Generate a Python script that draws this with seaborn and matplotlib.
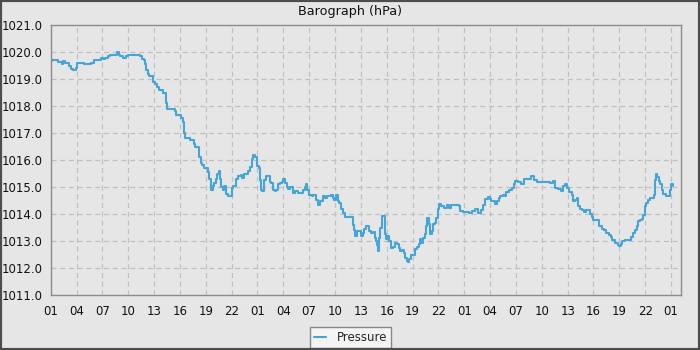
import numpy as np
import pandas as pd
import matplotlib
matplotlib.use("Agg")
import matplotlib.pyplot as plt
from matplotlib.patches import Rectangle
from matplotlib.ticker import MultipleLocator, FixedLocator, FuncFormatter
import seaborn as sns

title = "Barograph (hPa)"
series_name = "Pressure"
tick_labels = ["01", "04", "07", "10", "13", "16", "19", "22"] * 3 + ["01"]

hours = [
    0.0, 0.2, 0.8, 1.27, 1.45, 1.65, 2.1, 2.35, 2.6, 2.9, 3.1, 3.9, 4.7, 5.05, 5.5, 5.8, 6.1,
    6.35, 6.6, 6.85, 7.7, 7.9, 8.1, 8.4, 8.7, 8.95, 10.1, 10.4, 10.6, 10.8, 10.9, 11.1, 11.3,
    11.45, 11.65, 11.85, 12.1, 12.3, 12.6, 13.0, 13.35, 13.5, 14.4, 14.6, 15.1, 15.3, 15.5,
    15.55, 16.2, 16.6, 16.8, 17.2, 17.4, 17.6, 17.8, 18.2, 18.4, 18.6, 18.8, 19.0, 19.2, 19.35,
    19.55, 19.7, 19.8, 19.95, 20.1, 20.3, 20.4, 20.6, 21.0, 21.2, 21.5, 21.75, 22.05, 22.25,
    22.45, 22.85, 23.15, 23.35, 23.5, 23.7, 23.9, 24.0, 24.15, 24.27, 24.4, 24.5, 24.7, 25.0,
    25.4, 25.6, 25.8, 26.0, 26.2, 26.4, 26.6, 26.85, 27.0, 27.2, 27.4, 27.5, 27.8, 28.1, 28.4,
    28.7, 29.3, 29.5, 29.65, 29.8, 30.0, 30.3, 30.5, 30.8, 31.0, 31.2, 31.6, 31.85, 32.1, 32.5,
    32.8, 32.9, 33.1, 33.3, 33.5, 33.7, 33.9, 34.15, 35.05, 35.2, 35.35, 35.6, 36.05, 36.2,
    36.4, 36.6, 36.9, 37.2, 37.4, 37.6, 37.8, 37.9, 38.0, 38.1, 38.25, 38.4, 38.5, 38.75, 38.9,
    39.05, 39.3, 39.5, 39.75, 39.95, 40.2, 40.4, 40.6, 40.8, 40.95, 41.1, 41.3, 41.5, 41.6,
    41.8, 42.3, 42.5, 42.7, 42.85, 43.0, 43.2, 43.4, 43.55, 43.7, 43.9, 44.0, 44.25, 44.4,
    44.6, 44.7, 44.9, 45.1, 45.3, 45.7, 46.0, 46.2, 46.5, 47.4, 47.55, 47.8, 48.5, 48.85,
    49.2, 49.6, 49.9, 50.2, 50.4, 50.7, 51.0, 51.15, 51.55, 51.75, 52.0, 52.2, 52.5, 52.7,
    52.9, 53.15, 53.5, 53.8, 53.9, 54.2, 54.6, 54.9, 55.8, 56.15, 56.45, 57.5, 58.0, 58.3,
    58.5, 58.85, 59.2, 59.5, 59.7, 59.9, 60.2, 60.45, 60.65, 60.9, 61.1, 61.25, 61.4, 61.7,
    61.95, 62.1, 62.6, 62.8, 63.0, 63.6, 64.0, 64.2, 64.4, 64.75, 65.0, 65.2, 65.5, 65.8,
    66.0, 66.2, 66.35, 66.65, 67.3, 67.6, 67.8, 68.0, 68.2, 68.4, 68.6, 68.75, 69.0, 69.15,
    69.3, 69.6, 70.05, 70.15, 70.2, 70.4, 70.55, 70.7, 70.9, 71.1, 71.4, 71.85, 72.0, 72.25,
]
pressure = [
    1019.65, 1019.72, 1019.62, 1019.56, 1019.65, 1019.6, 1019.5, 1019.37, 1019.35, 1019.4,
    1019.6, 1019.56, 1019.6, 1019.7, 1019.72, 1019.78, 1019.74, 1019.78, 1019.84, 1019.9,
    1019.99, 1019.9, 1019.86, 1019.78, 1019.86, 1019.9, 1019.9, 1019.84, 1019.74, 1019.7,
    1019.57, 1019.35, 1019.2, 1019.12, 1019.1, 1018.88, 1018.8, 1018.7, 1018.6, 1018.47,
    1018.1, 1017.9, 1017.8, 1017.67, 1017.55, 1017.4, 1017.0, 1016.83, 1016.74, 1016.6,
    1016.5, 1016.1, 1015.9, 1015.8, 1015.7, 1015.55, 1015.3, 1014.9, 1015.05, 1015.15,
    1015.3, 1015.5, 1015.6, 1015.3, 1015.0, 1014.9, 1015.05, 1014.9, 1014.75, 1014.65,
    1014.95, 1015.05, 1015.3, 1015.4, 1015.45, 1015.35, 1015.5, 1015.6, 1015.75, 1016.05,
    1016.2, 1016.1, 1015.95, 1015.77, 1015.7, 1015.27, 1014.9, 1014.84, 1015.27, 1015.4,
    1015.2, 1015.15, 1014.9, 1014.84, 1014.9, 1015.1, 1015.15, 1015.2, 1015.3, 1015.15,
    1015.0, 1014.93, 1015.0, 1014.78, 1014.84, 1014.78, 1014.9, 1015.0, 1015.1, 1014.9,
    1014.72, 1014.65, 1014.72, 1014.53, 1014.35, 1014.47, 1014.65, 1014.6, 1014.65, 1014.72,
    1014.6, 1014.53, 1014.72, 1014.47, 1014.4, 1014.2, 1014.04, 1013.9, 1013.6, 1013.42,
    1013.2, 1013.36, 1013.2, 1013.3, 1013.43, 1013.56, 1013.37, 1013.28, 1013.33, 1013.12,
    1013.0, 1012.84, 1012.63, 1013.12, 1013.5, 1013.86, 1013.93, 1013.25, 1013.06, 1013.19,
    1013.0, 1012.75, 1012.79, 1012.91, 1012.88, 1012.75, 1012.63, 1012.67, 1012.54, 1012.38,
    1012.26, 1012.22, 1012.35, 1012.5, 1012.69, 1012.79, 1012.88, 1013.06, 1012.94, 1013.12,
    1013.25, 1013.56, 1013.86, 1013.62, 1013.25, 1013.37, 1013.62, 1013.68, 1013.86, 1014.17,
    1014.36, 1014.3, 1014.23, 1014.32, 1014.23, 1014.32, 1014.3, 1014.11, 1014.07, 1014.04,
    1014.12, 1014.19, 1014.04, 1014.16, 1014.35, 1014.56, 1014.63, 1014.56, 1014.47, 1014.38,
    1014.47, 1014.6, 1014.68, 1014.72, 1014.65, 1014.8, 1014.9, 1014.96, 1015.12, 1015.21,
    1015.17, 1015.12, 1015.3, 1015.42, 1015.27, 1015.19, 1015.2, 1015.15, 1015.21, 1014.96,
    1014.93, 1014.84, 1015.02, 1015.11, 1014.96, 1014.8, 1014.72, 1014.47, 1014.53, 1014.6,
    1014.3, 1014.19, 1014.16, 1014.06, 1014.14, 1014.0, 1013.9, 1013.77, 1013.54, 1013.44,
    1013.42, 1013.3, 1013.23, 1013.15, 1013.02, 1012.93, 1012.86, 1012.83, 1012.9, 1012.99,
    1013.05, 1013.15, 1013.3, 1013.4, 1013.54, 1013.73, 1013.77, 1013.81, 1013.98, 1014.28,
    1014.41, 1014.53, 1014.6, 1014.72, 1015.27, 1015.49, 1015.37, 1015.21, 1015.11, 1014.9,
    1014.75, 1014.65, 1014.9, 1015.12, 1015.02,
]

df = pd.DataFrame({"hour": hours, "pressure": pressure})

sns.set_theme(style="white")
plt.rcParams["font.family"] = ["DejaVu Sans"]

bg = "#e6e6e6"
fig = plt.figure(figsize=(7, 3.5), dpi=100, facecolor=bg)
ax = fig.add_axes([50.7 / 700, 55 / 350, (680.5 - 50.7) / 700, (295 - 25) / 350])
ax.set_facecolor(bg)

sns.lineplot(data=df, x="hour", y="pressure", ax=ax, color="#45a5d8", linewidth=1.5,
             drawstyle="steps-post", label=series_name, legend=False)

ax.set_xlim(0, 73.1)
ax.set_ylim(1011, 1021)
ax.xaxis.set_major_locator(FixedLocator(np.arange(0, 73, 3)))
ax.xaxis.set_minor_locator(MultipleLocator(1))
ax.set_xticklabels(tick_labels)
ax.yaxis.set_major_locator(MultipleLocator(1))
ax.yaxis.set_minor_locator(MultipleLocator(0.5))
ax.yaxis.set_major_formatter(FuncFormatter(lambda v, p: f"{v:.1f}"))
ax.set_xlabel("")
ax.set_ylabel("")

ax.grid(True, which="major", color="#c0c0c0", linestyle=(0, (4, 3)), linewidth=0.9)
ax.set_axisbelow(True)
for s in ax.spines.values():
    s.set_visible(True)
    s.set_color("#8c8c8c")
    s.set_linewidth(1.0)

ax.tick_params(axis="both", which="major", direction="out", length=5, width=1,
               color="#555555", labelsize=8.5, labelcolor="#111111", pad=2)
ax.tick_params(axis="both", which="minor", direction="out", length=3, width=1,
               color="#555555")
ax.tick_params(axis="y", which="major", pad=1)

fig.text(0.5, 1 - 11.5 / 350, title, ha="center", va="center", fontsize=9.2, color="#111111")

handles, labels = ax.get_legend_handles_labels()
leg = fig.legend(handles, labels, loc="center", bbox_to_anchor=(350.5 / 700, 1 - 337.5 / 350),
                 fontsize=8.5, frameon=True, fancybox=False, handlelength=1.0,
                 borderpad=0.35, handletextpad=0.9, borderaxespad=0)
leg.get_frame().set_facecolor("#f4f4f4")
leg.get_frame().set_edgecolor("#888888")
leg.get_frame().set_linewidth(1.0)
leg.get_frame().set_alpha(1)

fig.patches.append(Rectangle((0, 0), 1, 1, transform=fig.transFigure, fill=False,
                             edgecolor="#4d4d4d", linewidth=3.0, zorder=10))

fig.savefig("out.png", dpi=100, facecolor=bg)
